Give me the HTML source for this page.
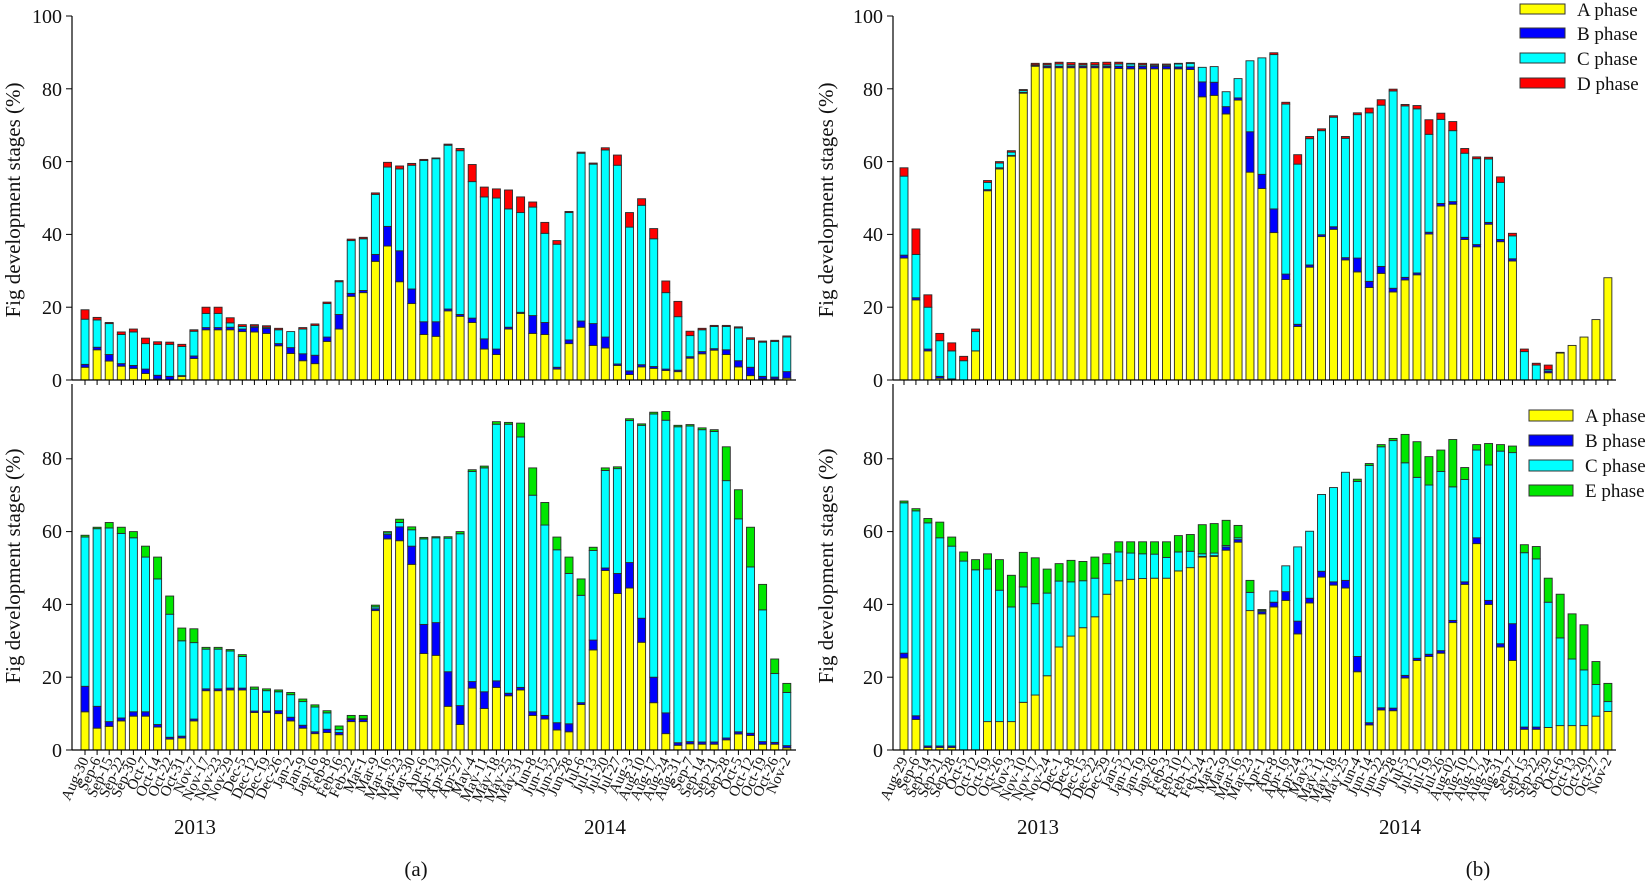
<!DOCTYPE html>
<html><head><meta charset="utf-8"><style>
html,body{margin:0;padding:0;background:#fff;}
svg{display:block;font-family:"Liberation Serif",serif;}
</style></head><body>
<svg id="s" width="1650" height="886" viewBox="0 0 1650 886" xmlns="http://www.w3.org/2000/svg">
<g id="bars"></g>
<g stroke="#000" stroke-width="1.2" fill="none">
<line x1="72" y1="16" x2="72" y2="380"/>
<line x1="72" y1="380" x2="796" y2="380"/>
<line x1="72" y1="384" x2="72" y2="750"/>
<line x1="72" y1="750" x2="796" y2="750"/>
<line x1="893" y1="16" x2="893" y2="380"/>
<line x1="893" y1="380" x2="1616" y2="380"/>
<line x1="893" y1="384" x2="893" y2="750"/>
<line x1="893" y1="750" x2="1616" y2="750"/>
</g>
<g id="ticks" stroke="#000" stroke-width="1"></g>
<g font-size="20" text-anchor="end" fill="#111">
<text x="62" y="23">100</text><text x="62" y="96">80</text><text x="62" y="169">60</text><text x="62" y="241">40</text><text x="62" y="314">20</text><text x="62" y="387">0</text>
<text x="62" y="465">80</text><text x="62" y="538">60</text><text x="62" y="611">40</text><text x="62" y="684">20</text><text x="62" y="757">0</text>
<text x="883" y="23">100</text><text x="883" y="96">80</text><text x="883" y="169">60</text><text x="883" y="241">40</text><text x="883" y="314">20</text><text x="883" y="387">0</text>
<text x="883" y="465">80</text><text x="883" y="538">60</text><text x="883" y="611">40</text><text x="883" y="684">20</text><text x="883" y="757">0</text>
</g>
<g font-size="21" text-anchor="middle" fill="#111">
<text transform="translate(20,200) rotate(-90)">Fig development stages (%)</text>
<text transform="translate(20,566) rotate(-90)">Fig development stages (%)</text>
<text transform="translate(833,200) rotate(-90)">Fig development stages (%)</text>
<text transform="translate(833,566) rotate(-90)">Fig development stages (%)</text>
<text x="195" y="834">2013</text><text x="605" y="834">2014</text><text x="416" y="876">(a)</text>
<text x="1038" y="834">2013</text><text x="1400" y="834">2014</text><text x="1478" y="876">(b)</text>
</g>
<g stroke="#333" stroke-width="1">
<rect x="1520" y="4" width="45" height="10" fill="#ffff00"/>
<rect x="1520" y="28" width="45" height="10" fill="#0000ff"/>
<rect x="1520" y="53" width="45" height="10" fill="#00ffff"/>
<rect x="1520" y="78" width="45" height="10" fill="#ff0000"/>
<rect x="1529" y="410" width="44" height="11" fill="#ffff00"/>
<rect x="1529" y="435" width="44" height="11" fill="#0000ff"/>
<rect x="1529" y="460" width="44" height="11" fill="#00ffff"/>
<rect x="1529" y="485" width="44" height="11" fill="#00e600"/>
</g>
<g font-size="19" fill="#111">
<text x="1577" y="16">A phase</text><text x="1577" y="40">B phase</text><text x="1577" y="65">C phase</text><text x="1577" y="90">D phase</text>
<text x="1585" y="422">A phase</text><text x="1585" y="447">B phase</text><text x="1585" y="472">C phase</text><text x="1585" y="497">E phase</text>
</g>
<g id="labL" font-size="15" text-anchor="end" fill="#111">
<text>Aug-30</text><text>Sep-6</text><text>Sep-15</text><text>Sep-22</text><text>Sep-30</text><text>Oct-7</text><text>Oct-14</text><text>Oct-22</text><text>Oct-31</text><text>Nov-7</text><text>Nov-17</text><text>Nov-23</text><text>Nov-29</text><text>Dec-5</text><text>Dec-12</text><text>Dec-19</text><text>Dec-26</text><text>Jan-2</text><text>Jan-9</text><text>Jan-16</text><text>Feb-8</text><text>Feb-16</text><text>Feb-22</text><text>Mar-1</text><text>Mar-9</text><text>Mar-16</text><text>Mar-23</text><text>Mar-30</text><text>Apr-6</text><text>Apr-13</text><text>Apr-20</text><text>Apr-27</text><text>May-4</text><text>May-11</text><text>May-18</text><text>May-25</text><text>May-31</text><text>Jun-8</text><text>Jun-15</text><text>Jun-22</text><text>Jun-28</text><text>Jul-6</text><text>Jul-13</text><text>Jul-20</text><text>Jul-27</text><text>Aug-3</text><text>Aug-10</text><text>Aug-17</text><text>Aug-24</text><text>Aug-31</text><text>Sep-7</text><text>Sep-14</text><text>Sep-21</text><text>Sep-28</text><text>Oct-5</text><text>Oct-12</text><text>Oct-19</text><text>Oct-26</text><text>Nov-2</text>
</g>
<g id="labR" font-size="15" text-anchor="end" fill="#111">
<text>Aug-29</text><text>Sep-6</text><text>Sep-14</text><text>Sep-21</text><text>Sep-28</text><text>Oct-5</text><text>Oct-12</text><text>Oct-19</text><text>Oct-26</text><text>Nov-3</text><text>Nov-10</text><text>Nov-17</text><text>Nov-24</text><text>Dec-1</text><text>Dec-8</text><text>Dec-15</text><text>Dec-22</text><text>Dec-29</text><text>Jan-5</text><text>Jan-12</text><text>Jan-19</text><text>Jan-26</text><text>Feb-3</text><text>Feb-10</text><text>Feb-17</text><text>Feb-24</text><text>Mar-2</text><text>Mar-9</text><text>Mar-16</text><text>Mar-23</text><text>Apr-1</text><text>Apr-8</text><text>Apr-16</text><text>Apr-24</text><text>May-3</text><text>May-11</text><text>May-18</text><text>May-25</text><text>Jun-4</text><text>Jun-14</text><text>Jun-22</text><text>Jun-28</text><text>Jul-5</text><text>Jul-12</text><text>Jul-19</text><text>Jul-26</text><text>Aug-02</text><text>Aug-10</text><text>Aug-17</text><text>Aug-24</text><text>Aug-31</text><text>Sep-7</text><text>Sep-15</text><text>Sep-22</text><text>Sep-29</text><text>Oct-6</text><text>Oct-13</text><text>Oct-20</text><text>Oct-27</text><text>Nov-2</text>
</g>
</svg>
<script>
var NS="http://www.w3.org/2000/svg";
var TL=[[3.5,4.3,16.7,19.3],[8.3,9,16.5,17.2],[5.2,7,15.5,15.8],[3.8,4.5,12.5,13.2],[3.2,4,13.2,14],[1.8,3,10,11.5],[0.3,1.3,9.8,10.5],[0.1,1,9.8,10.4],[1,1.2,9.2,9.8],[5.9,6.6,13.4,13.8],[13.8,14.4,18.3,20],[13.8,14.4,18.3,20],[13.8,14.5,15.7,17.1],[13.3,14,14.7,15.2],[13.2,14.5,14.8,15.2],[12.8,14.2,14.5,14.9],[9.4,10,13.8,14.2],[7.3,8.9,13.3,13.3],[5.3,7.2,14,14.4],[4.5,6.8,15,15.4],[10.6,11.8,21,21.4],[14,18,27,27.3],[23,23.8,38.3,38.7],[24,24.6,38.8,39.2],[32.6,34.5,51,51.4],[36.8,42.2,58.5,59.8],[27,35.5,58,58.8],[21,25,59,59.5],[12.5,16,60.3,60.6],[12,16,60.8,61],[19,19.5,64.5,64.8],[17.5,18,63,63.6],[15.8,17,54.5,59.2],[8.5,11.3,50.3,53],[7,8.5,50,52.5],[14,14.5,47,52.2],[18.3,18.6,46,50.3],[12.8,17.7,47.5,48.9],[12.5,15.8,40.3,43.3],[3,3.5,37.3,38.3],[10,11,46,46.3],[14.5,16.2,62.3,62.6],[9.5,15.5,59.3,59.6],[8.8,11.8,63.2,63.8],[4,4.4,59,61.8],[1.5,2.5,42,46],[3.6,4.2,48,49.8],[3.2,3.7,38.8,41.6],[2.6,3,24,27.2],[2.3,2.7,17.4,21.6],[6,6.4,12.2,13.4],[7.2,7.8,13.8,14.2],[8.2,8.6,14.7,15],[7,8.3,14.7,15],[3.6,5.3,14.3,14.6],[1.2,3.5,11.2,11.6],[0.3,1,10.4,10.7],[0.3,0.8,10.6,10.9],[0.5,2.3,11.8,12.1]];
var BL=[[10.5,17.5,58.5,59],[6,12,60.8,61.2],[6.5,7.8,61,62.5],[8,8.8,59.5,61.2],[9.3,10.5,58.3,60],[9.3,10.5,53,56],[6.3,7,47,53],[3,3.5,37.3,42.3],[3.3,3.8,30,33.5],[8,8.5,29.5,33.3],[16.3,16.8,27.7,28.2],[16.3,16.8,27.7,28.2],[16.5,17,27.2,27.6],[16.5,17,25.7,26.2],[10.3,10.7,16.7,17.3],[10.3,10.7,16.3,16.8],[10,10.8,16,16.5],[8,9,15.2,15.8],[6,6.8,13.3,14],[4.5,5,11.8,12.4],[4.8,5.7,10.2,10.8],[4.2,4.8,5.6,6.6],[7.8,8.4,8.6,9.5],[7.8,8.4,8.6,9.5],[38.3,38.8,39.3,39.8],[58,59.2,59.6,60],[57.5,61.3,62.5,63.4],[51,56,60.5,61.3],[26.5,34.5,58,58.4],[26,35,58.3,58.6],[12,21.5,58.2,58.6],[7,12.2,59.4,60],[17,18.8,76.5,77],[11.4,16,77.5,78],[17.2,19,89.5,90.2],[14.9,15.6,89.5,90],[16.5,17.2,86,89.8],[9.5,10.5,70,77.5],[8.5,9.5,61.8,68],[5.5,7.5,55,58.5],[5,7.2,48.5,53],[12.5,13,42.5,47],[27.5,30.2,54.8,55.7],[49.3,50,76.8,77.5],[43,48.5,77.3,77.8],[44.5,51.5,90.5,91],[29.6,36.2,89.2,89.6],[13,20,92.3,92.8],[4.5,10.2,90.6,93],[1.3,2,88.8,89.2],[1.7,2.3,89,89.4],[1.6,2.2,88,88.5],[1.6,2.2,87.5,88],[2.8,3.3,74,83.3],[4.4,5,63.5,71.5],[4,4.6,50.3,61.2],[1.6,2.3,38.5,45.5],[1.6,2.1,21,25],[0.6,1.2,15.8,18.3]];
var TR=[[33.5,34.3,56,58.3],[22,22.6,34.5,41.5],[8,8.5,20,23.4],[0.5,1,10.8,12.8],[0,0.3,8,10.2],[0,0,5.3,6.5],[8,8,13.3,14],[52,52.3,54.3,54.8],[58,58.3,59.6,60],[61.5,61.7,62.6,63],[78.8,79,79.5,79.8],[86.2,86.4,86.6,87],
[85.8,86.2,86.6,87],[85.8,86.2,86.8,87.3],[85.8,86.2,86.6,87.2],[85.8,86.2,86.6,87],[85.8,86.2,86.6,87.2],[85.8,86.2,86.6,87.3],[85.6,86.2,86.8,87.3],[85.5,86.2,86.8,87],[85.5,86.2,86.6,87],[85.5,86.2,86.5,86.8],[85.5,86.2,86.5,86.8],[85.5,86,86.8,87],[85.3,86,87,87.2],
[77.8,81.9,85.9,85.9],[78.2,81.8,86.1,86.1],[73.1,75.1,79.2,79.2],[76.9,77.5,82.8,82.8],[57.1,68.2,87.7,87.7],[52.6,56.5,88.5,88.5],[40.5,47,89.4,89.9],[27.6,29.1,75.8,76.3],[14.7,15.3,59.3,61.9],[31,31.6,66.3,66.9],[39.4,39.9,68.5,69],[41.4,42.1,72.2,72.6],[33,33.6,66.4,66.9],[29.7,33.5,72.9,73.4],[25.4,27.1,73.4,74.7],[29.3,31.2,75.5,77],[24.2,25.2,79.4,79.9],[27.5,28.2,75.3,75.7],[28.9,29.4,74.5,75.4],
[40.1,40.6,67.5,71.5],[47.8,48.5,71.6,73.3],[48.3,49,68.5,71],[38.6,39.2,62.3,63.6],[36.6,37.2,60.8,61.3],[42.8,43.3,60.7,61.2],[38,38.6,54.3,55.8],[32.7,33.3,39.6,40.3],[0,0,7.8,8.5],[0,0,4.1,4.6],[2,2.5,2.9,4.1],[7.4,7.6,7.6,7.6],[9.5,9.5,9.5,9.5],[11.8,11.8,11.8,11.8],[16.6,16.6,16.6,16.6],[28.1,28.1,28.1,28.1]];
var BR=[[25.3,26.6,67.9,68.4],[8.4,9.4,65.7,66.3],[0.7,1.1,62.4,63.6],[0.7,1.1,58.3,62.6],[0.7,1.1,56,58.5],[0,0,51.9,54.4],[0,0,49.5,52.3],[7.8,7.8,49.7,53.9],[7.8,7.8,43.9,52.3],[7.8,7.8,39.3,48],[13.1,13.1,44.8,54.3],[15.1,15.1,40.2,52.8],[20.4,20.4,43.1,49.7],[28.3,28.3,46.4,51.2],[31.3,31.3,46.2,52.1],[33.6,33.6,46.5,51.8],[36.6,36.6,47.2,53],[42.8,42.8,51.2,53.9],[46.5,46.5,54.4,57.2],[46.9,46.9,54.1,57.2],[47.1,47.1,53.9,57.2],[47.2,47.2,53.8,57.2],[47.2,47.2,52.9,57.2],[49.2,49.2,54.4,58.9],[50.1,50.1,54.6,59.2],[53,53.2,53.9,61.9],[53.2,53.4,54.1,62.2],[54.9,55.8,56.2,63.1],[57.1,57.8,58.3,61.7],[38.3,38.3,43.3,46.6],
[37.4,38,38.3,38.6],[39.3,40.6,43.7,43.7],[41.1,43.5,50.6,50.6],[31.9,35.4,55.8,55.8],[40.4,41.7,60.1,60.1],[47.5,49.1,70.2,70.2],[45.3,46.2,72.1,72.1],[44.5,46.6,76.3,76.3],[21.5,25.7,73.8,74.4],[6.9,7.5,78.2,78.7],[11,11.6,83.3,83.9],[10.8,11.5,85,85.6],[19.8,20.5,78.9,86.7],[24.6,25.2,74.9,84.7],[25.7,26.3,72.8,80.6],[26.6,27.3,76.5,82.4],[35,35.6,72.3,85.3],[45.5,46.2,74.3,77.6],[56.7,58.3,82.4,83.9],[40,41.1,78.3,84.2],[28.3,29.2,82.1,83.9],[24.6,34.7,81.7,83.5],[5.7,6.3,54.2,56.4],[5.7,6.3,52.5,55.9],[6.2,6.2,40.6,47.2],[6.7,6.7,30.8,42.8],[6.7,6.7,25,37.4],[6.7,6.7,22,34.4],[9.3,9.3,18,24.3],[10.6,10.6,13.3,18.3]];
var cols4=["#ffff00","#0000ff","#00ffff","#ff0000"], cols4e=["#ffff00","#0000ff","#00ffff","#00e600"];
var gB=document.getElementById("bars"), tk=document.getElementById("ticks");
var K=3.64;
function draw(data,x0,dx,y0,cols){
  for(var i=0;i<data.length;i++){
    var cx=x0+i*dx, prev=0;
    for(var j=0;j<4;j++){
      var v=data[i][j]; if(v-prev>0.05){
        var r=document.createElementNS(NS,"rect");
        r.setAttribute("x",(cx-4).toFixed(2)); r.setAttribute("width","8");
        r.setAttribute("y",(y0-v*K).toFixed(2)); r.setAttribute("height",((v-prev)*K).toFixed(2));
        r.setAttribute("fill",cols[j]); r.setAttribute("stroke","#2a2a2a"); r.setAttribute("stroke-width","0.9");
        gB.appendChild(r);
      }
      if(v>prev)prev=v;
    }
    var l=document.createElementNS(NS,"line");
    l.setAttribute("x1",cx.toFixed(2));l.setAttribute("x2",cx.toFixed(2));
    l.setAttribute("y1",y0);l.setAttribute("y2",y0+5);tk.appendChild(l);
  }
}
draw(TL,85,12.1,380,cols4);
draw(BL,85,12.1,750,cols4e);
draw(TR,904,11.93,380,cols4);
draw(BR,904,11.93,750,cols4e);
function yt(x,ys){for(var k=0;k<ys.length;k++){var y=ys[k];var l=document.createElementNS(NS,"line");l.setAttribute("x1",x-6);l.setAttribute("x2",x);l.setAttribute("y1",y);l.setAttribute("y2",y);tk.appendChild(l);}}
var tTop=[16,88.8,161.6,234.4,307.2,380], tBot=[458.8,531.6,604.4,677.2,750];
yt(72,tTop);yt(72,tBot);yt(893,tTop);yt(893,tBot);
function lab(id,x0,dx){var t=document.getElementById(id).children;for(var i=0;i<t.length;i++){var x=x0+i*dx+4;t[i].setAttribute("transform","translate("+x.toFixed(2)+",760) rotate(-65)");}}
lab("labL",85,12.1);lab("labR",904,11.93);
</script>
</body></html>
